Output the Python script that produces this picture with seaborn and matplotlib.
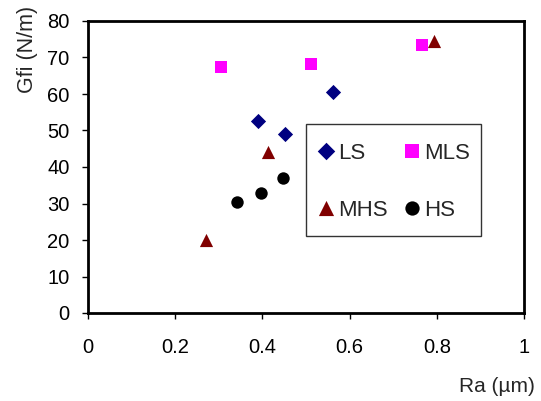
import pandas as pd
import matplotlib
matplotlib.use("Agg")
import matplotlib.pyplot as plt
import seaborn as sns

groups = ["LS", "MLS", "MHS", "HS"]
ls_ra = [0.391, 0.451, 0.563]
ls_gfi = [52.7, 49.0, 60.6]
mls_ra = [0.304, 0.511, 0.766]
mls_gfi = [67.3, 68.3, 73.3]
mhs_ra = [0.271, 0.412, 0.794]
mhs_gfi = [20.0, 44.2, 74.6]
hs_ra = [0.341, 0.397, 0.447]
hs_gfi = [30.5, 32.8, 37.1]

df = pd.concat([
    pd.DataFrame({"Ra": ls_ra, "Gfi": ls_gfi, "group": "LS"}),
    pd.DataFrame({"Ra": mls_ra, "Gfi": mls_gfi, "group": "MLS"}),
    pd.DataFrame({"Ra": mhs_ra, "Gfi": mhs_gfi, "group": "MHS"}),
    pd.DataFrame({"Ra": hs_ra, "Gfi": hs_gfi, "group": "HS"}),
])

sns.set_style("white")
plt.rcParams['font.family'] = ['Liberation Sans', 'DejaVu Sans']

fig = plt.figure(figsize=(5.41, 4.01), dpi=100)
ax = fig.add_axes([88 / 541, 1 - 313 / 401, 436 / 541, 292 / 401])

palette = {"LS": "#000080", "MLS": "#ff00ff", "MHS": "#800000", "HS": "#000000"}
markers = {"LS": "D", "MLS": "s", "MHS": "^", "HS": "o"}
sizes = {"LS": 60, "MLS": 80, "MHS": 90, "HS": 80}
for g in groups:
    sns.scatterplot(data=df[df.group == g], x="Ra", y="Gfi", color=palette[g],
                    marker=markers[g], s=sizes[g], linewidth=0, ax=ax, label=g)

ax.set_xlim(0, 1)
ax.set_ylim(0, 80)
ax.set_xticks([0, 0.2, 0.4, 0.6, 0.8, 1])
ax.set_xticklabels(["0", "0.2", "0.4", "0.6", "0.8", "1"])
ax.set_yticks(range(0, 81, 10))
for s in ax.spines.values():
    s.set_linewidth(2)
    s.set_color("black")
ax.tick_params(direction="out", length=4.3, width=1, labelsize=14.5, pad=9,
               bottom=True, left=True, colors="black")
ax.tick_params(axis="x", pad=14)
ax.set_xlabel("")
ax.set_ylabel("")
fig.text(535 / 541, 1 - 386 / 401, "Ra (µm)", ha="right", va="center", fontsize=15)
fig.text(28 / 541, 1 - 6 / 401, "Gfi (N/m)", ha="center", va="top", rotation=90, fontsize=15.5)

# column-first fill: reorder so rows read LS MLS / MHS HS
h, l = ax.get_legend_handles_labels()
order = [0, 2, 1, 3]
leg = ax.legend([h[i] for i in order], [l[i] for i in order], ncol=2,
                loc="upper left", bbox_to_anchor=((306 - 88) / 436, 1 - (124 - 21) / 292),
                borderaxespad=0, fontsize=16, frameon=True, fancybox=False,
                handletextpad=0.15, columnspacing=0.68, labelspacing=1.1,
                borderpad=0.5, handlelength=0.8, handleheight=1.9, markerscale=1.15,
                scatterpoints=1, scatteryoffsets=[0.24])
leg.get_frame().set_edgecolor("black")
leg.get_frame().set_linewidth(1)

fig.savefig("out.png", dpi=100)
